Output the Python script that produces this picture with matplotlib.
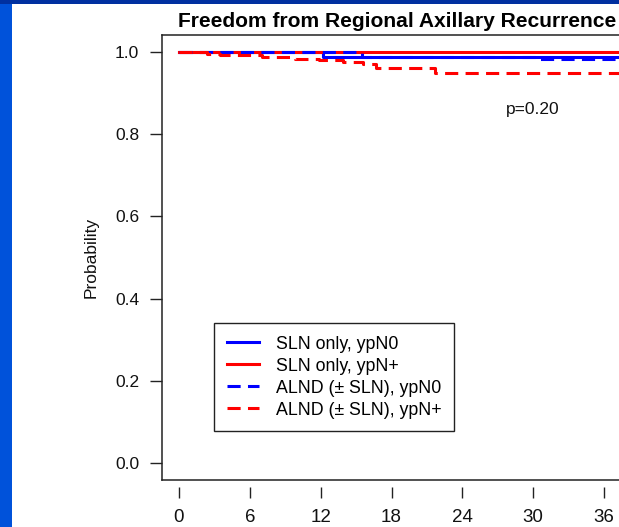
import numpy as np
import matplotlib.pyplot as plt
from matplotlib.patches import Rectangle

plt.rcParams['font.family'] = ['Liberation Sans', 'DejaVu Sans']

# Kaplan-Meier step curves (months, survival)
sln_n0_t = [0, 12.2, 40]
sln_n0_s = [1.0, 0.988, 0.988]

sln_np_t = [0, 40]
sln_np_s = [1.0, 1.0]

alnd_n0_t = [0, 15.5, 30.2, 40]
alnd_n0_s = [1.0, 0.988, 0.981, 0.981]

alnd_np_t = [0, 2.4, 3.5, 7.0, 9.8, 11.9, 13.9, 15.6, 16.7, 21.7, 40]
alnd_np_s = [1.0, 0.995, 0.991, 0.987, 0.982, 0.979, 0.976, 0.971, 0.960, 0.948, 0.948]

labels = ["SLN only, ypN0", "SLN only, ypN+", "ALND (\u00b1 SLN), ypN0", "ALND (\u00b1 SLN), ypN+"]
xticks = [0, 6, 12, 18, 24, 30, 36]
yticks = [0.0, 0.2, 0.4, 0.6, 0.8, 1.0]

W, H = 619, 527
fig = plt.figure(figsize=(W / 100, H / 100), dpi=100)
fig.patch.set_facecolor('white')

# slide background strips
fig.patches.append(Rectangle((0, 0), 12 / W, 1, transform=fig.transFigure,
                             facecolor='#0052DA', edgecolor='none', zorder=0))
fig.patches.append(Rectangle((0, 1 - 3.5 / H), 1, 3.5 / H, transform=fig.transFigure,
                             facecolor='#0030A0', edgecolor='none', zorder=0))

left, right, top, bottom = 162, 621, 35.2, 479.8
ax = fig.add_axes([left / W, 1 - bottom / H, (right - left) / W, (bottom - top) / H])

dash = (0, (4.3, 2.4))
lw = 2.2
ax.step(sln_n0_t, sln_n0_s, where='post', color='#0000FF', lw=lw, label=labels[0])
ax.step(sln_np_t, sln_np_s, where='post', color='#FF0000', lw=lw, label=labels[1])
ax.step(alnd_n0_t, alnd_n0_s, where='post', color='#0000FF', lw=lw, ls=dash, label=labels[2])
ax.step(alnd_np_t, alnd_np_s, where='post', color='#FF0000', lw=lw, ls=dash, label=labels[3])

ax.set_xlim(-1.44, 37.44)
ax.set_ylim(-0.04, 1.04)
ax.set_xticks(xticks)
ax.set_yticks(yticks)
ax.set_yticklabels(["%.1f" % v for v in yticks])
ax.tick_params(axis='both', width=1, color='#222222', labelcolor='#111111')
ax.tick_params(axis='y', labelsize=12.5, length=8.5, pad=8)
ax.tick_params(axis='x', labelsize=13.5, length=8, pad=8)

for s in ['left', 'top', 'right']:
    ax.spines[s].set_linewidth(1.1)
    ax.spines[s].set_color('#222222')
ax.spines['bottom'].set_position(('outward', 5))
ax.spines['bottom'].set_color('none')
ax.plot([0, 1], [0, 0], transform=ax.transAxes, color='#222222', lw=1.1, clip_on=False)

ax.set_title("Freedom from Regional Axillary Recurrence", fontsize=15.1, fontweight='bold',
             pad=6, x=0.513)
ax.set_ylabel("Probability", fontsize=12.5, color='#111111')
ax.yaxis.set_label_coords(-0.139, 0.5)

ax.text(30, 0.86, "p=0.20", fontsize=12.5, ha='center', va='center', color='#111111')

leg = ax.legend(loc='upper left', bbox_to_anchor=(0.113, 0.353), borderaxespad=0,
                fancybox=False, edgecolor='#222222', framealpha=1, fontsize=12.8,
                handlelength=1.8, handletextpad=0.95, labelspacing=0.28, borderpad=0.72)
leg.get_frame().set_linewidth(1.0)

fig.savefig("out.png", dpi=100)
